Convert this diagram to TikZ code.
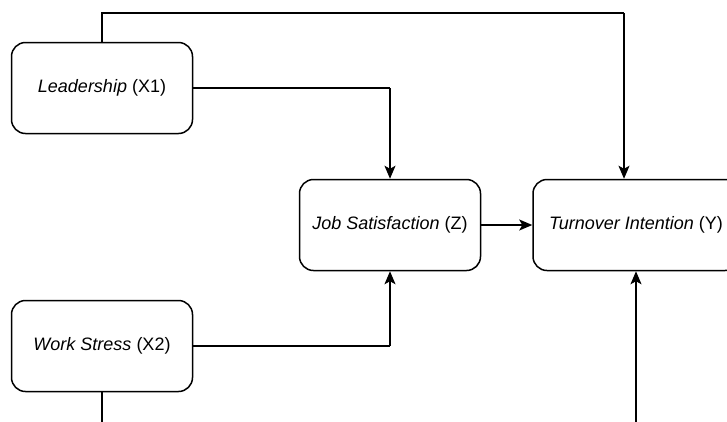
\documentclass[tikz,border=0pt]{standalone}
\usepackage{fontspec}
\setmainfont{Liberation Sans}
\usetikzlibrary{arrows.meta}
\begin{document}
\begin{tikzpicture}[x=1pt,y=-1pt,
 box/.style={draw, line width=1.5pt, rounded corners=14pt, minimum width=181pt, minimum height=91pt, font=\fontsize{18}{21}\selectfont, inner sep=0pt},
 conn/.style={line width=1.5pt, -{Stealth[length=13pt,width=11pt,inset=3pt]}},
 plain/.style={line width=1.5pt}]
\useasboundingbox (0,0) rectangle (727,421);
\clip (0,0) rectangle (727,421);
\node[box] (x1) at (102,88) {\textit{Leadership} (X1)};
\node[box] (z) at (390,225) {\textit{Job Satisfaction} (Z)};
\node[box, minimum width=206pt] (y) at (636,225) {\textit{Turnover Intention} (Y)};
\node[box] (x2) at (102,346) {\textit{Work Stress} (X2)};
\coordinate (tc) at (624,13);
\coordinate (k1) at (390,88);
\coordinate (k2) at (390,346);
\coordinate (b1) at (102,426);
\coordinate (b2) at (636,426);
\draw[plain] (x1.north) |- (tc);
\draw[conn] (tc) -- (tc |- y.north);
\draw[plain] (x1.east) -- (k1);
\draw[conn] (k1) -- (z.north);
\draw[plain] (x2.east) -- (k2);
\draw[conn] (k2) -- (z.south);
\draw[conn] (z.east) -- (y.west);
\draw[plain] (x2.south) -- (b1);
\draw[conn] (b2) -- (y.south);
\end{tikzpicture}
\end{document}
